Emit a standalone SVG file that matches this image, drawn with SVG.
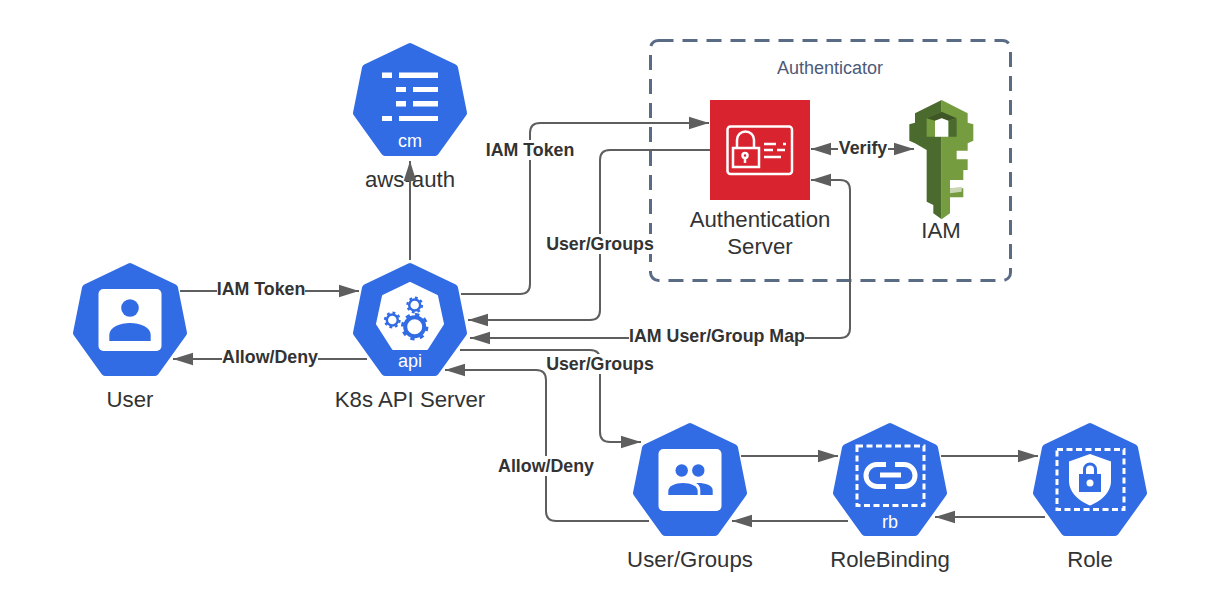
<svg xmlns="http://www.w3.org/2000/svg" width="1220" height="610" viewBox="0 0 1220 610">
<style>
text{font-family:"Liberation Sans",Arial,sans-serif;fill:#333}
.hep{fill:#326ce5;stroke:#326ce5;stroke-width:8;stroke-linejoin:round}
.n{font-size:22.2px;text-anchor:middle}
.w{font-size:18px;text-anchor:middle;fill:#fff}
.l{font-size:17.8px;font-weight:bold;text-anchor:middle}
.c{fill:none;stroke:#5e5e5e;stroke-width:2}
.dash{fill:none;stroke:#fff;stroke-width:3;stroke-dasharray:6 3.5}
.bg{fill:#fff}
</style>
<defs>
<polygon id="hep" class="hep" points="0,4 44,25 53,70 25,109 -25,109 -53,70 -44,25"/>
<marker id="a" markerUnits="userSpaceOnUse" markerWidth="22" markerHeight="16" refX="20" refY="8" orient="auto-start-reverse"><path d="M0,1.700L20,8L0,14.300Z" fill="#5e5e5e"/></marker>
</defs>
<rect width="1220" height="610" fill="#fff"/>
<g id="authenticator">
<rect x="650.5" y="40.5" width="360" height="240" rx="8" fill="none" stroke="#5a6b85" stroke-width="3" stroke-dasharray="15 9"/>
<text x="830" y="74" font-size="18" text-anchor="middle" style="fill:#4c5a78">Authenticator</text>
</g>
<g id="node-cm" transform="translate(410,43)">
<use href="#hep"/>
<g fill="#fff"><rect x="-28" y="29.500" width="10" height="5.500"/><rect x="-11" y="29.500" width="39" height="5.500"/><rect x="-14" y="44" width="10" height="5"/><rect x="3" y="44" width="25" height="5"/><rect x="-14" y="58" width="10" height="5.500"/><rect x="3" y="58" width="25" height="5.500"/><rect x="-28" y="73" width="10" height="5"/><rect x="-11" y="73" width="39" height="5"/></g>
<text class="w" x="0" y="104">cm</text>
<text class="n" x="0" y="144">aws-auth</text>
</g>
<g id="node-api" transform="translate(410,263)">
<use href="#hep"/>
<polygon points="0,20 27,33 33,61 17,86 -17,86 -33,61 -27,33" fill="#fff" stroke="#fff" stroke-width="2" stroke-linejoin="round"/>
<g fill="none" stroke="#326ce5">
<circle cx="4.700" cy="63.700" r="9.500" stroke-width="4"/><circle cx="4.700" cy="63.700" r="12.300" stroke-width="2.800" stroke-dasharray="4.300 5.360"/>
<circle cx="-17.700" cy="57" r="5.500" stroke-width="2.500"/><circle cx="-17.700" cy="57" r="7.300" stroke-width="2.200" stroke-dasharray="2.800 2.930"/>
<circle cx="4.700" cy="42" r="5.500" stroke-width="2.500"/><circle cx="4.700" cy="42" r="7.300" stroke-width="2.200" stroke-dasharray="2.800 2.930"/>
</g>
<text class="w" x="0" y="104">api</text>
<text class="n" x="0" y="144">K8s API Server</text>
</g>
<g id="node-user" transform="translate(130,263)">
<use href="#hep"/>
<rect x="-31.500" y="26" width="63" height="62" rx="5" fill="#fff"/>
<circle cx="0" cy="45" r="8.800" fill="#326ce5"/>
<path d="M-20.700,78V72C-20.700,64-10,60 0,60S20.700,64 20.700,72V78Z" fill="#326ce5"/>
<text class="n" x="0" y="144">User</text>
</g>
<g id="node-usergroups" transform="translate(690,423)">
<use href="#hep"/>
<rect x="-31.500" y="26" width="63" height="62" rx="5" fill="#fff"/>
<circle cx="-8.300" cy="47.500" r="6.200" fill="#326ce5"/><circle cx="8.300" cy="47.500" r="6.200" fill="#326ce5"/>
<path d="M-21.700,72V68C-21.700,63-15,60-7,60S7.700,63 7.700,68V72Z" fill="#326ce5"/>
<path d="M10.300,72V67C10.300,64 9,61.500 6,60 14,59.500 22.700,62 22.700,67V72Z" fill="#326ce5"/>
<text class="n" x="0" y="144">User/Groups</text>
</g>
<g id="node-rb" transform="translate(890,423)">
<use href="#hep"/>
<rect x="-33" y="23" width="67" height="59.500" class="dash"/>
<g fill="none" stroke="#fff" stroke-width="5">
<path d="M-4,41.500H-13A11,11 0 0 0 -13,63.500H-4"/><path d="M5,41.500H14A11,11 0 0 1 14,63.500H5"/>
<path d="M-10,52H11"/>
</g>
<text class="w" x="0" y="105">rb</text>
<text class="n" x="0" y="144">RoleBinding</text>
</g>
<g id="node-role" transform="translate(1090,423)">
<use href="#hep"/>
<rect x="-33" y="26.500" width="67" height="60" class="dash"/>
<path d="M0,31L21,38.500V58C21,70 10,78.500 0,82.500C-10,78.500-21,70-21,58V38.500Z" fill="#fff"/>
<rect x="-11" y="51" width="22" height="18" fill="#326ce5"/>
<path d="M-5.500,51V46.500A5.500,5.500 0 0 1 5.500,46.500V51" fill="none" stroke="#326ce5" stroke-width="3"/>
<circle cx="0" cy="60" r="3.500" fill="#fff"/>
<text class="n" x="0" y="144">Role</text>
</g>
<g id="node-authserver">
<rect x="710" y="100" width="100" height="100" fill="#d9232e"/>
<g fill="none" stroke="#fff" stroke-width="2.500">
<rect x="727.500" y="126.500" width="64.500" height="47.500" rx="3"/>
<rect x="733" y="148" width="26" height="19"/>
<path d="M737,148V140A8.500,8.500 0 0 1 754,140V148"/>
<circle cx="745" cy="155.500" r="2.500"/><path d="M745,158V163"/>
<path d="M764,144H776M783,144H786M764,150H773M777,150H785M764,157H781"/>
</g>
<text class="n" x="760" y="227">Authentication</text>
<text class="n" x="760" y="254">Server</text>
</g>
<g id="node-iam">
<g transform="translate(895,90) scale(0.3333)">
<path d="M140,30L60,70V98L43,103V152L60,160L95,180V335L115,345V370L140,388V30Z" fill="#4b6a2e"/>
<path d="M140,30L218,70V98L235,103V152L218,160V182H185V208H218V240H205V270H165V295H205V322H165V370L140,388Z" fill="#759c3e"/>
<path d="M95,85L140,65L185,85V140H95Z" fill="#759c3e"/>
<path d="M95,85L140,65L185,85L160,92L140,85L120,92Z" fill="#3f5727"/>
<path d="M160,92L185,85V140H160Z" fill="#4b6a2e"/>
<path d="M120,92L140,85L160,92V140H120Z" fill="#fff"/>
<path d="M165,295L200,290V305L165,310Z" fill="#c9d6b4"/>
</g>
<text class="n" x="941" y="238">IAM</text>
</g>
<g id="connectors">
<path class="c" d="M410,260V161" marker-end="url(#a)"/>
<path class="c" d="M180,291H359" marker-end="url(#a)"/>
<path class="c" d="M367,359H173" marker-end="url(#a)"/>
<path class="c" d="M461,294H520Q530,294 530,284V133Q530,123 540,123H709" marker-end="url(#a)"/>
<path class="c" d="M710,150H610Q600,150 600,160V310Q600,320 590,320H468" marker-end="url(#a)"/>
<path class="c" d="M470,338H840Q850,338 850,328V190Q850,180 840,180H811" marker-start="url(#a)" marker-end="url(#a)"/>
<path class="c" d="M811,149H914" marker-start="url(#a)" marker-end="url(#a)"/>
<path class="c" d="M460,350H590Q600,350 600,360V432Q600,442 610,442H641" marker-end="url(#a)"/>
<path class="c" d="M649,521H556Q546,521 546,511V380Q546,370 536,370H445" marker-end="url(#a)"/>
<path class="c" d="M741,456H838" marker-end="url(#a)"/>
<path class="c" d="M941,456H1038" marker-end="url(#a)"/>
<path class="c" d="M1045,517H935" marker-end="url(#a)"/>
<path class="c" d="M848,521H732" marker-end="url(#a)"/>
<g id="labels">
<rect class="bg" x="217" y="280" width="88" height="20"/><text class="l" x="261" y="295">IAM Token</text>
<rect class="bg" x="222" y="348" width="96" height="20"/><text class="l" x="270" y="363">Allow/Deny</text>
<rect class="bg" x="486" y="140" width="88" height="20"/><text class="l" x="530" y="156">IAM Token</text>
<rect class="bg" x="546" y="234" width="108" height="20"/><text class="l" x="600" y="250">User/Groups</text>
<rect class="bg" x="629" y="326" width="176" height="20"/><text class="l" x="717" y="342">IAM User/Group Map</text>
<rect class="bg" x="838" y="139" width="50" height="20"/><text class="l" x="863" y="154">Verify</text>
<rect class="bg" x="546" y="354" width="108" height="20"/><text class="l" x="600" y="370">User/Groups</text>
<rect class="bg" x="498" y="456" width="96" height="20"/><text class="l" x="546" y="472">Allow/Deny</text>
</g>
</g>
</svg>
